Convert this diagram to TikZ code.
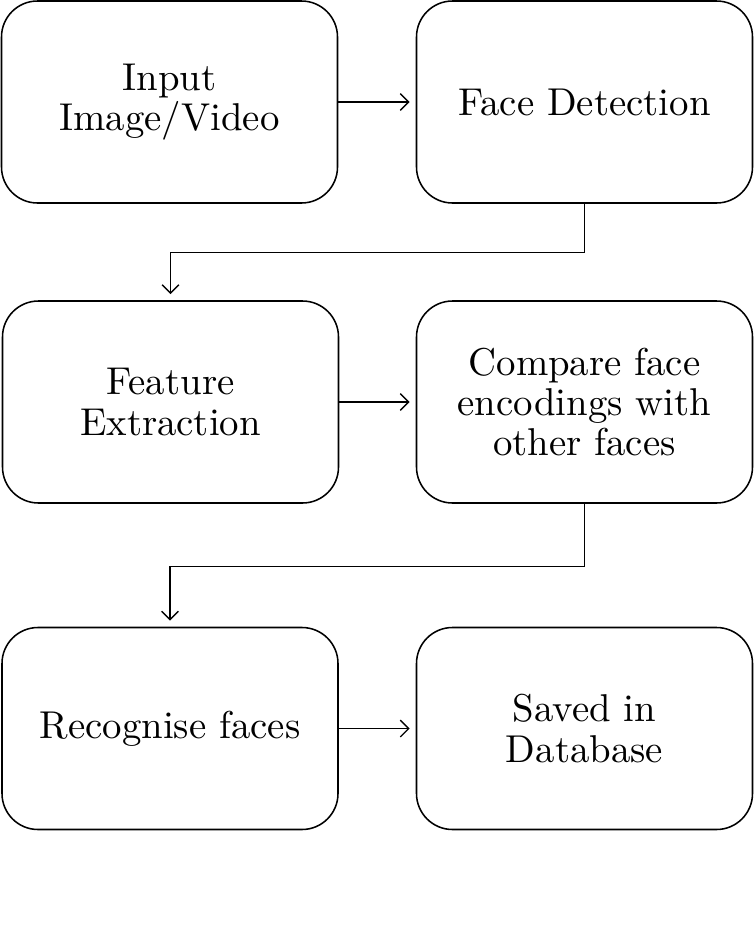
\documentclass[tikz,border=0pt]{standalone}
\usepackage{fontspec}
\setmainfont{lmroman10-regular.otf}
\usetikzlibrary{arrows.meta, positioning}

\begin{document}
\begin{tikzpicture}[
  font=\fontsize{27.6}{28.5}\selectfont,
  blocco/.style={draw=black, line width=1.1pt, rounded corners=0.9cm, fill=white,
                 minimum width=8.4cm, minimum height=5.05cm, align=center, inner sep=0pt},
  freccia/.style={draw=black, line width=1pt, shorten >=0.15cm,
                  -{Straight Barb[length=6pt,width=12pt,line width=1pt]}}
]

% ---- area dell'immagine (margini inclusi)
\useasboundingbox (0,0) rectangle (18.875,-23.4);

% ---- riga 1
\node[blocco] (input)   at (4.2375,-2.55)  {Input\\Image/Video};
\node[blocco] (detect)  at (14.6125,-2.55) {Face Detection};

% ---- riga 2
\node[blocco] (feature) at (4.2625,-10.05)  {Feature\\Extraction};
\node[blocco] (compare) at (14.6125,-10.05) {Compare face\\encodings with\\other faces};

% ---- riga 3
\node[blocco] (recog)   at (4.25,-18.2125)    {Recognise faces};
\node[blocco] (saved)   at (14.6125,-18.2125) {Saved in\\Database};

% ---- collegamenti
\draw[freccia] (input) -- (detect);
\draw[freccia] (detect.south) -- ++(0,-1.225) -| (feature.north);
\draw[freccia] (feature) -- (compare);
\draw[freccia] (compare.south) -- ++(0,-1.575) -| (recog.north);
\draw[freccia] (recog) -- (saved);

\end{tikzpicture}
\end{document}
